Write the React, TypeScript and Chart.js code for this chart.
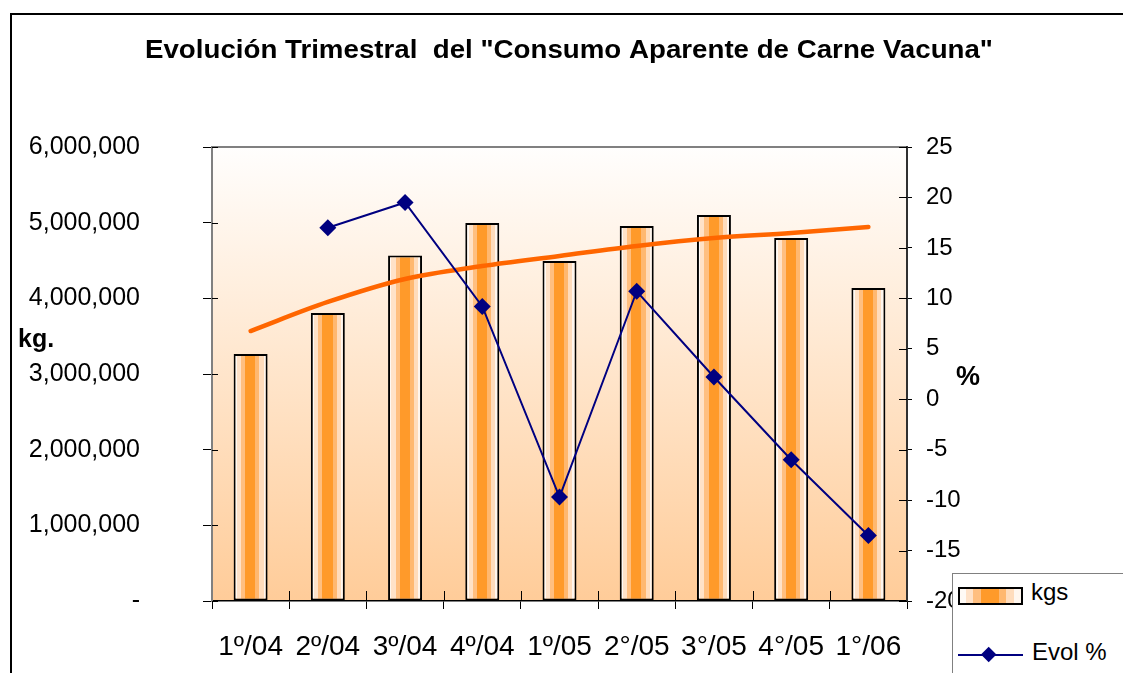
import React, { useEffect, useRef } from 'react';
import { Chart, registerables } from 'chart.js';

Chart.register(...registerables);

const FONT = "'Liberation Sans', Arial, sans-serif";

const TITLE = 'Evolución Trimestral  del "Consumo Aparente de Carne Vacuna"';
const CATEGORIES = ['1º/04', '2º/04', '3º/04', '4º/04', '1º/05', '2°/05', '3°/05', '4°/05', '1°/06'];
const KGS = [3264000, 3806000, 4566000, 4996000, 4493000, 4956000, 5101000, 4797000, 4137000];
const KGS_TREND = [3568000, 3952000, 4256000, 4427000, 4560000, 4692000, 4797000, 4864000, 4943000];
const EVOL_PCT = [null, 17.0, 19.5, 9.2, -9.7, 10.7, 2.2, -6.0, -13.5];
const KG_MIN = 0;
const KG_MAX = 6000000;
const KG_STEP = 1000000;
const PCT_MIN = -20;
const PCT_MAX = 25;
const PCT_STEP = 5;

const STRIPES: [number, number, string][] = [
  [0.0, 0.1, '#fffaf5'],
  [0.1, 0.22, '#ffe2c8'],
  [0.22, 0.34, '#ffbf80'],
  [0.34, 0.64, '#ff9a2a'],
  [0.64, 0.76, '#ffb870'],
  [0.76, 0.88, '#ffdcbc'],
  [0.88, 1.0, '#fff6ee'],
];

const stripesCss =
  'linear-gradient(to right, ' +
  STRIPES.map(([a, b, c]) => `${c} ${a * 100}%, ${c} ${b * 100}%`).join(', ') +
  ')';

const BAR_FRACTION = 0.44;

const plotBackground = {
  id: 'plotBackground',
  beforeDraw(chart: any) {
    const { ctx, chartArea } = chart;
    if (!chartArea) return;
    const { left, top, right, bottom } = chartArea;
    const g = ctx.createLinearGradient(0, top, 0, bottom);
    g.addColorStop(0, '#fffefd');
    g.addColorStop(1, '#ffcc99');
    ctx.save();
    ctx.fillStyle = g;
    ctx.fillRect(left, top, right - left, bottom - top);
    ctx.strokeStyle = '#808080';
    ctx.lineWidth = 2;
    ctx.beginPath();
    ctx.moveTo(left, top);
    ctx.lineTo(right, top);
    ctx.stroke();
    ctx.restore();
  },
};

const innerTicks = {
  id: 'innerTicks',
  beforeDatasetsDraw(chart: any) {
    const { ctx, chartArea, scales } = chart;
    ctx.save();
    ctx.strokeStyle = '#000';
    ctx.lineWidth = 1;
    ctx.beginPath();
    scales.y.ticks.forEach((_t: any, i: number) => {
      const p = Math.round(scales.y.getPixelForTick(i)) + 0.5;
      ctx.moveTo(chartArea.left, p);
      ctx.lineTo(chartArea.left + 6, p);
    });
    scales.y1.ticks.forEach((_t: any, i: number) => {
      const p = Math.round(scales.y1.getPixelForTick(i)) + 0.5;
      ctx.moveTo(chartArea.right - 8, p);
      ctx.lineTo(chartArea.right, p);
    });
    const n = CATEGORIES.length;
    for (let i = 1; i < n; i++) {
      const px = Math.round(chartArea.left + (i * (chartArea.right - chartArea.left)) / n) + 0.5;
      ctx.moveTo(px, chartArea.bottom - 10);
      ctx.lineTo(px, chartArea.bottom);
    }
    ctx.stroke();
    ctx.restore();
  },
};

const captions = {
  id: 'captions',
  afterDraw(chart: any) {
    const { ctx } = chart;
    ctx.save();
    ctx.fillStyle = '#000';
    ctx.textBaseline = 'alphabetic';
    ctx.textAlign = 'left';
    // chart title, slightly widened like the original rendering
    ctx.font = `bold 25px ${FONT}`;
    const tw = ctx.measureText(TITLE).width;
    const targetW = 848;
    const sx = targetW / tw;
    ctx.save();
    ctx.translate(145, 58);
    ctx.scale(sx, 1);
    ctx.fillText(TITLE, 0, 0);
    ctx.restore();
    // axis captions
    ctx.font = `bold 25px ${FONT}`;
    ctx.fillText('kg.', 18, 347);
    ctx.font = `bold 27px ${FONT}`;
    ctx.fillText('%', 956, 385);
    ctx.restore();
  },
};

export default function App() {
  const ref = useRef<HTMLCanvasElement>(null);

  useEffect(() => {
    const canvas = ref.current;
    if (!canvas) return;
    const chart = new Chart(canvas, {
      type: 'bar',
      data: {
        labels: CATEGORIES,
        datasets: [
          {
            type: 'line',
            label: 'Evol %',
            data: EVOL_PCT as any,
            yAxisID: 'y1',
            borderColor: '#000080',
            backgroundColor: '#000080',
            borderWidth: 2,
            pointStyle: 'rectRot',
            pointRadius: 8.5,
            pointBackgroundColor: '#000080',
            pointBorderColor: '#000080',
            pointBorderWidth: 0,
            tension: 0,
            order: 1,
          } as any,
          {
            type: 'line',
            label: 'Tendencia',
            data: KGS_TREND,
            yAxisID: 'y',
            borderColor: '#ff6600',
            borderWidth: 4.5,
            pointRadius: 0,
            tension: 0.35,
            borderCapStyle: 'round',
            order: 2,
          } as any,
          {
            type: 'bar',
            label: 'kgs',
            data: KGS,
            yAxisID: 'y',
            borderColor: '#000',
            borderWidth: 2,
            borderSkipped: false,
            categoryPercentage: BAR_FRACTION,
            barPercentage: 1,
            order: 3,
            backgroundColor: (c: any) => {
              const chart = c.chart;
              const xs = chart.scales && chart.scales.x;
              if (!xs || c.type !== 'data' || !xs.width) return '#ff9a2a';
              const center = xs.getPixelForValue(c.dataIndex);
              const w = (xs.width / CATEGORIES.length) * BAR_FRACTION;
              const g = chart.ctx.createLinearGradient(center - w / 2, 0, center + w / 2, 0);
              STRIPES.forEach(([a, b, col]) => {
                g.addColorStop(a, col);
                g.addColorStop(b, col);
              });
              return g;
            },
          } as any,
        ],
      },
      options: {
        responsive: false,
        maintainAspectRatio: false,
        devicePixelRatio: 1,
        animation: false,
        layout: { padding: { top: 147, left: 0, right: 0, bottom: 0 } },
        plugins: {
          legend: { display: false },
          tooltip: { enabled: false },
          title: { display: false },
        },
        scales: {
          x: {
            type: 'category',
            offset: true,
            grid: { offset: true, drawOnChartArea: false, tickLength: 8, color: '#000', lineWidth: 1 },
            border: { display: true, color: '#000', width: 1.5 },
            ticks: {
              color: '#000',
              font: { family: FONT, size: 28 },
              padding: 21,
              maxRotation: 0,
              autoSkip: false,
            },
            afterFit: (s: any) => {
              s.height = 72;
            },
          },
          y: {
            position: 'left',
            min: KG_MIN,
            max: KG_MAX,
            grid: { drawOnChartArea: false, tickLength: 9, color: '#000', lineWidth: 1 },
            border: { display: true, color: '#808080', width: 2 },
            ticks: {
              stepSize: KG_STEP,
              color: '#000',
              font: { family: FONT, size: 25 },
              padding: 63,
              callback: (v: any) => (Number(v) === 0 ? '-' : Number(v).toLocaleString('en-US')),
            },
            afterFit: (s: any) => {
              s.width = 212;
              s.paddingTop = 16;
              s.paddingBottom = 16;
            },
          },
          y1: {
            position: 'right',
            min: PCT_MIN,
            max: PCT_MAX,
            grid: { drawOnChartArea: false, tickLength: 5, color: '#000', lineWidth: 1 },
            border: { display: true, color: '#303030', width: 2 },
            ticks: {
              stepSize: PCT_STEP,
              color: '#000',
              font: { family: FONT, size: 24 },
              padding: 14,
            },
            afterFit: (s: any) => {
              s.width = 216;
              s.paddingTop = 16;
              s.paddingBottom = 16;
            },
          },
        },
      },
      plugins: [plotBackground, innerTicks, captions],
    });
    return () => chart.destroy();
  }, []);

  return (
    <div
      style={{
        position: 'fixed',
        left: 0,
        top: 0,
        width: 1123,
        height: 673,
        overflow: 'hidden',
        background: '#fff',
        fontFamily: FONT,
      }}
    >
      <div
        style={{
          position: 'absolute',
          left: 10,
          top: 13,
          width: 1300,
          height: 900,
          borderTop: '2px solid #000',
          borderLeft: '2px solid #000',
        }}
      />
      <canvas
        ref={ref}
        width={1123}
        height={673}
        style={{ position: 'absolute', left: 0, top: 0, width: 1123, height: 673 }}
      />
      <div
        style={{
          position: 'absolute',
          left: 952,
          top: 573,
          width: 300,
          height: 200,
          background: '#fff',
          border: '1px solid #808080',
          fontSize: 24,
          color: '#000',
        }}
      >
        <div
          style={{
            position: 'absolute',
            left: 5,
            top: 13,
            width: 65,
            height: 18,
            boxSizing: 'border-box',
            border: '2px solid #000',
            background: stripesCss,
          }}
        />
        <span style={{ position: 'absolute', left: 78, top: 6, lineHeight: '24px', whiteSpace: 'nowrap' }}>kgs</span>
        <div style={{ position: 'absolute', left: 5, top: 80, width: 65, height: 2, background: '#000080' }} />
        <div
          style={{
            position: 'absolute',
            left: 30.3,
            top: 75.3,
            width: 11.4,
            height: 11.4,
            background: '#000080',
            transform: 'rotate(45deg)',
          }}
        />
        <span style={{ position: 'absolute', left: 79, top: 66, lineHeight: '24px', whiteSpace: 'nowrap' }}>Evol %</span>
      </div>
    </div>
  );
}
